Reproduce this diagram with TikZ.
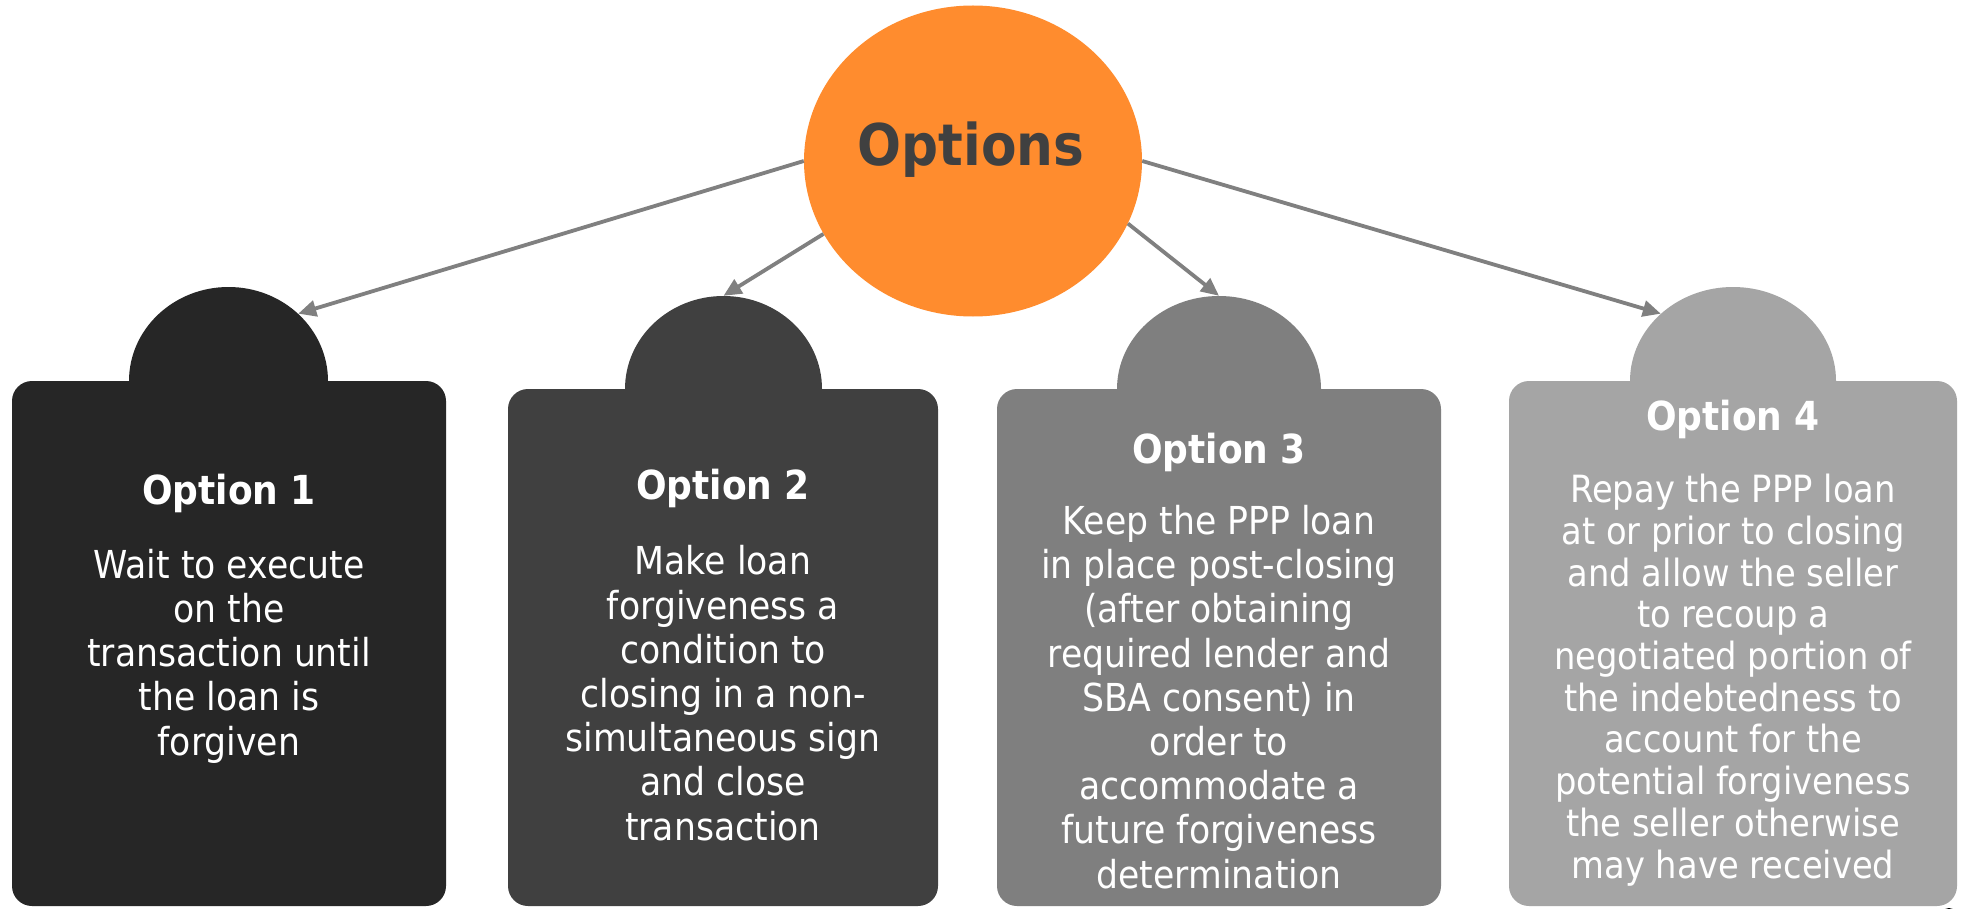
\documentclass[tikz,border=0pt]{standalone}
\usepackage{fontspec}
\setmainfont{DejaVu Sans}[FakeStretch=0.9]
\usetikzlibrary{shapes.geometric,arrows.meta}

\definecolor{optorange}{RGB}{255,140,46}
\definecolor{titlegray}{RGB}{64,64,64}
\definecolor{shadeA}{RGB}{38,38,38}
\definecolor{shadeB}{RGB}{64,64,64}
\definecolor{shadeC}{RGB}{127,127,127}
\definecolor{shadeD}{RGB}{165,165,165}
\definecolor{linkgray}{RGB}{128,128,128}

\begin{document}
\begin{tikzpicture}[x=1pt,y=-1pt,
  panel/.style={rectangle, rounded corners=20pt, inner sep=0pt, draw=none},
  dome/.style={ellipse, inner sep=0pt, draw=none},
  ttl/.style={text=white, anchor=base, inner sep=0pt,
    font=\bfseries\fontsize{40}{48}\selectfont},
  % multi-line texts are placed by the baseline of their last line
  body/.style={text=white, align=center, anchor=base, inner sep=0pt,
    font=\fontsize{38.5}{44.2}\selectfont},
  link/.style={draw=linkgray, line width=3.8pt,
    -{Triangle[length=18pt,width=16pt]}}]

\useasboundingbox[fill=white] (0,0) rectangle (1969,909);

% central ellipse
\node[ellipse, fill=optorange, inner sep=0pt,
  minimum width=338pt, minimum height=311pt] (opts) at (973,161) {};
\node[anchor=base, inner sep=0pt, text=titlegray,
  font=\bfseries\fontsize{57.5}{69}\selectfont] (optslabel) at (971,166) {Options};

% domes on top of the panels
\node[dome, fill=shadeA, minimum width=199pt, minimum height=188pt] (dome1) at (228.5,381) {};
\node[dome, fill=shadeB, minimum width=197pt, minimum height=186pt] (dome2) at (723.5,389) {};
\node[dome, fill=shadeC, minimum width=204pt, minimum height=186pt] (dome3) at (1219,389) {};
\node[dome, fill=shadeD, minimum width=206pt, minimum height=188pt] (dome4) at (1733,381) {};

% panels
\node[panel, fill=shadeA, minimum width=434pt, minimum height=525pt] (box1) at (229,643.5) {};
\node[panel, fill=shadeB, minimum width=430pt, minimum height=517pt] (box2) at (723,647.5) {};
\node[panel, fill=shadeC, minimum width=444pt, minimum height=517pt] (box3) at (1219,647.5) {};
\node[panel, fill=shadeD, minimum width=448pt, minimum height=525pt] (box4) at (1733,643.5) {};

% connectors
\draw[link] (opts.180) -- (dome1.44);
\draw[link] (opts.206) -- (dome2.90);
\draw[link] (opts.338) -- (dome3.90);
\draw[link] (opts.0) -- (dome4.137);

% panel texts
\node[ttl] (t1) at (229,504) {Option 1};
\node[body] (b1) at (229,755) {Wait to execute\\on the\\transaction until\\the loan is\\forgiven};

\node[ttl] (t2) at (723,499) {Option 2};
\node[body] (b2) at (723,840) {Make loan\\forgiveness a\\condition to\\closing in a non-\\simultaneous sign\\and close\\transaction};

\node[ttl] (t3) at (1219,463) {Option 3};
\node[body] (b3) at (1219,888) {Keep the PPP loan\\in place post-closing\\(after obtaining\\required lender and\\SBA consent) in\\order to\\accommodate a\\future forgiveness\\determination};

\node[ttl] (t4) at (1733,430) {Option 4};
\node[body, font=\fontsize{37.5}{41.7}\selectfont] (b4) at (1733,878) {Repay the PPP loan\\at or prior to closing\\and allow the seller\\to recoup a\\negotiated portion of\\the indebtedness to\\account for the\\potential forgiveness\\the seller otherwise\\may have received};

% edge of a dark shape at the lower right corner
\fill[black] (1949,922) ellipse [x radius=11pt, y radius=14pt];
\end{tikzpicture}
\end{document}
